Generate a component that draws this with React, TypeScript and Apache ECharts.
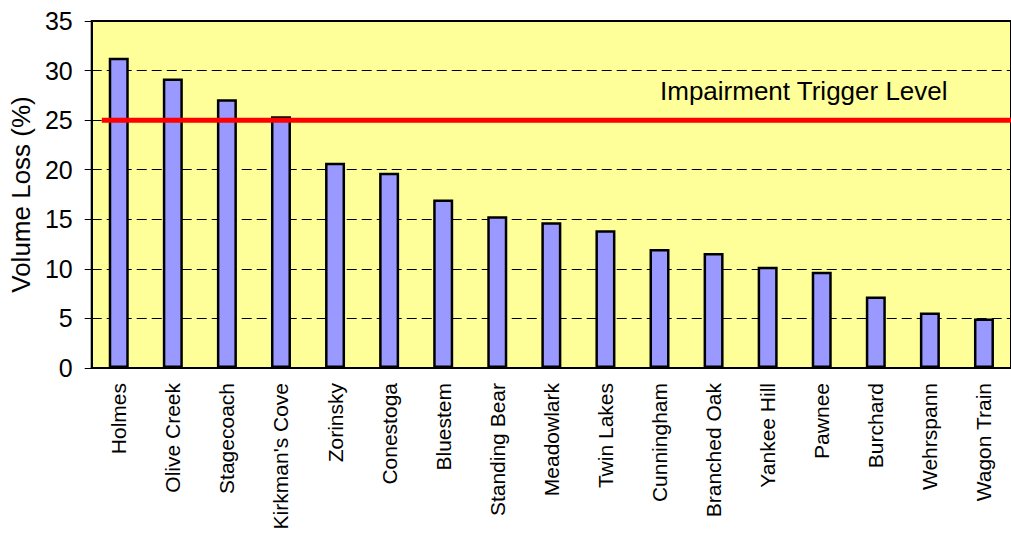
import React, { useEffect, useRef } from "react";
import * as echarts from "echarts";

// Reservoirs and their volume loss (%)
const reservoirs = [
  "Holmes",
  "Olive Creek",
  "Stagecoach",
  "Kirkman's Cove",
  "Zorinsky",
  "Conestoga",
  "Bluestem",
  "Standing Bear",
  "Meadowlark",
  "Twin Lakes",
  "Cunningham",
  "Branched Oak",
  "Yankee Hill",
  "Pawnee",
  "Burchard",
  "Wehrspann",
  "Wagon Train",
];
const volumeLoss = [31.3, 29.2, 27.1, 25.4, 20.7, 19.7, 17.0, 15.3, 14.7, 13.9, 12.0, 11.6, 10.2, 9.7, 7.2, 5.6, 5.0];

// Impairment trigger level (%)
const triggerLevel = 25;
const triggerLabel = "Impairment Trigger Level";
const yAxisName = "Volume Loss (%)";

const FONT = "'Liberation Sans', Arial, sans-serif";

export default function App() {
  const ref = useRef<HTMLDivElement>(null);

  useEffect(() => {
    if (!ref.current) return;
    const chart = echarts.init(ref.current, null, { renderer: "svg" });
    chart.setOption({
      animation: false,
      textStyle: { fontFamily: FONT },
      grid: {
        left: 87,
        top: 21,
        width: 931,
        height: 347,
        show: true,
        backgroundColor: "#FFFF99",
        borderColor: "#000",
        borderWidth: 2,
        containLabel: false,
      },
      xAxis: [
        {
          type: "category",
          data: reservoirs,
          axisLine: { show: true, lineStyle: { color: "#000", width: 2 } },
          axisTick: { show: false },
          axisLabel: {
            rotate: 90,
            margin: 15,
            color: "#000",
            fontSize: 21,
            fontFamily: FONT,
            interval: 0,
          },
          splitLine: { show: false },
        },
        {
          type: "value",
          min: 0,
          max: 1,
          show: false,
        },
      ],
      yAxis: {
        type: "value",
        min: 0,
        max: 35,
        interval: 5,
        name: yAxisName,
        nameLocation: "middle",
        nameGap: 47,
        nameRotate: 90,
        nameTextStyle: { color: "#000", fontSize: 26, fontFamily: FONT },
        axisLine: { show: true, lineStyle: { color: "#000", width: 2 } },
        axisTick: { show: true, inside: false, length: 7, lineStyle: { color: "#000", width: 1 } },
        axisLabel: { color: "#000", fontSize: 25, margin: 19, fontFamily: FONT },
        splitLine: { show: true, lineStyle: { color: "#000", width: 1, type: [10, 5] } },
      },
      series: [
        {
          type: "bar",
          data: volumeLoss,
          barWidth: 20,
          itemStyle: { color: "#9999FF", borderColor: "#000", borderWidth: 2.5 },
          z: 2,
        },
        {
          type: "line",
          xAxisIndex: 1,
          data: [
            [0.011, triggerLevel],
            [1, triggerLevel],
          ],
          symbol: "none",
          lineStyle: { color: "#FF0000", width: 5 },
          z: 5,
          silent: true,
        },
      ],
      graphic: [
        {
          type: "text",
          left: 660,
          top: 78,
          style: {
            text: triggerLabel,
            fill: "#000",
            font: `26px ${FONT}`,
          },
          z: 10,
        },
      ],
    });
    return () => chart.dispose();
  }, []);

  return (
    <div
      ref={ref}
      style={{ position: "absolute", left: 0, top: 0, width: 1011, height: 533 }}
    />
  );
}
